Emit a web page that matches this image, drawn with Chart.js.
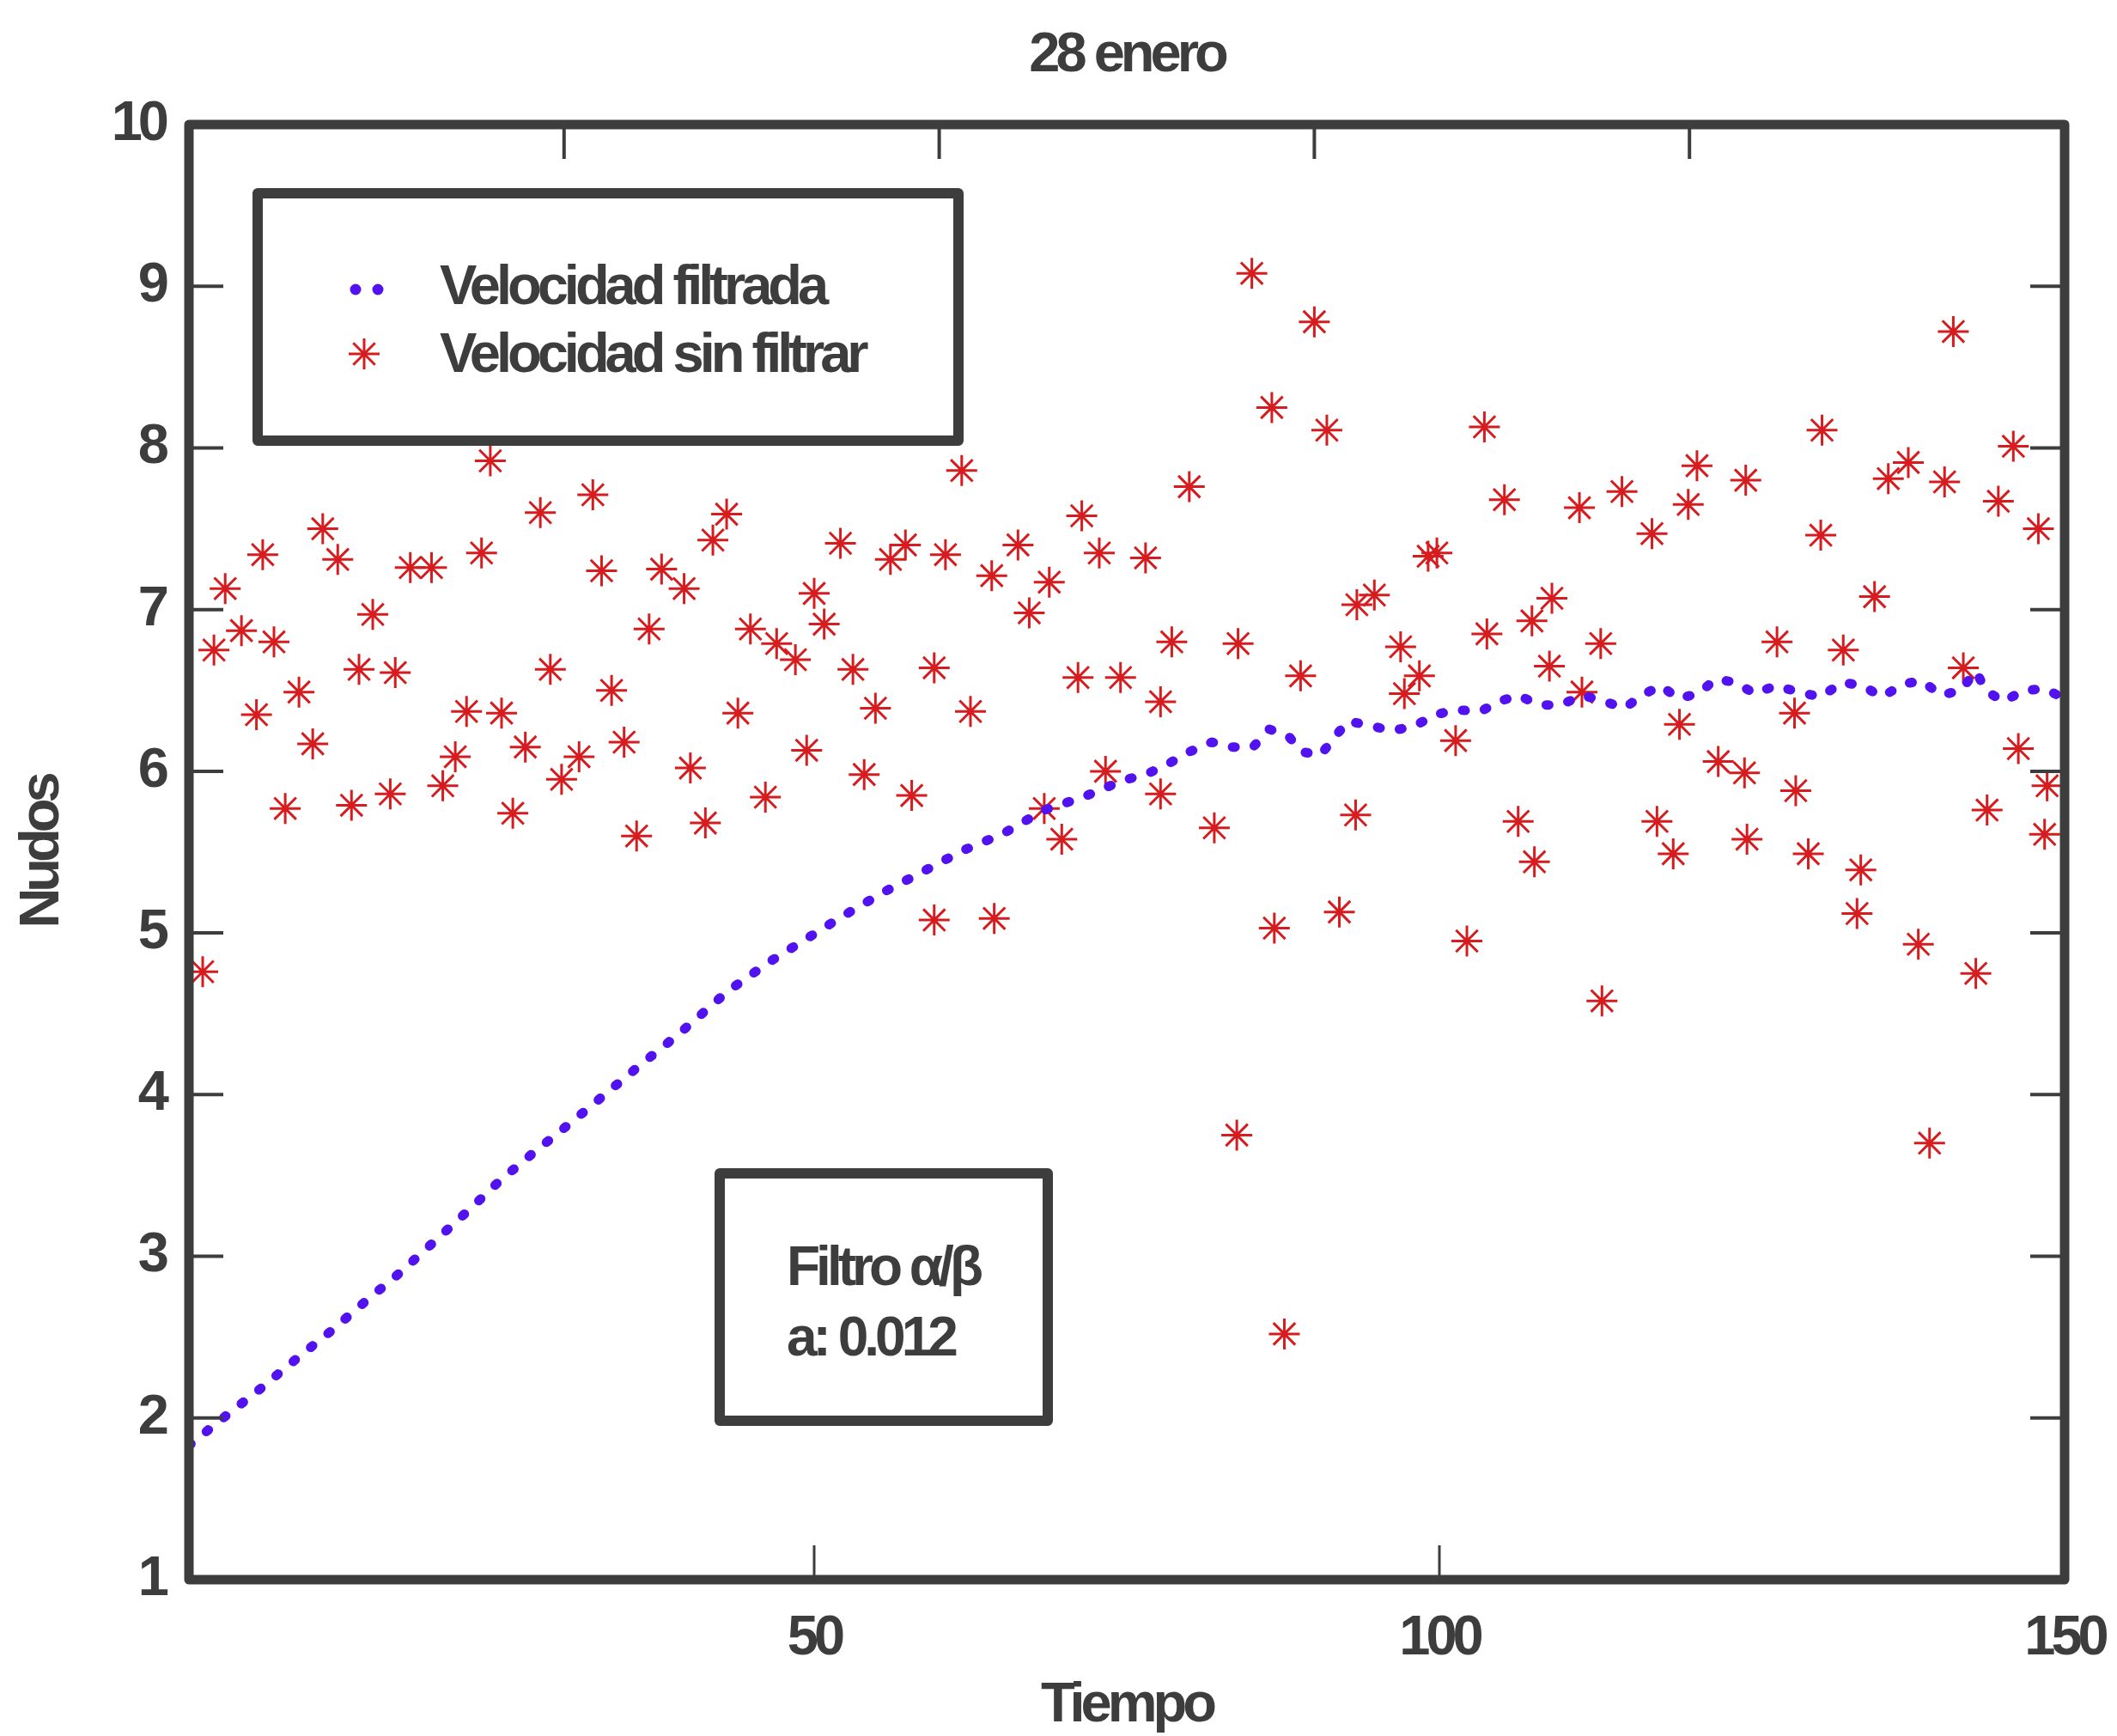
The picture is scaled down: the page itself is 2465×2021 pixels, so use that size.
<!DOCTYPE html>
<html lang="es">
<head>
<meta charset="UTF-8">
<title>28 enero</title>
<script src="https://cdn.jsdelivr.net/npm/chart.js"></script>
<style>
  html, body { margin: 0; padding: 0; background: #fff; overflow: hidden; }
  .wrap { width: 2465px; height: 2021px; position: relative; }
</style>
</head>
<body>
<div class="wrap"><canvas id="chart"></canvas></div>
<script>
// velocidad sin filtrar (tiempo, nudos)
const tRaw = [
  1.1, 2.0, 2.9, 4.2, 5.4, 5.9, 6.8, 7.7, 8.8, 9.9,
  10.7, 11.9, 13.0, 13.6, 14.7, 16.1, 16.5, 17.7, 19.4, 20.3,
  21.3, 22.2, 23.4, 24.1, 25.0, 25.9, 26.9, 28.1, 28.9, 29.8,
  31.2, 32.3, 33.0, 33.8, 34.8, 35.8, 36.8, 37.8, 39.6, 40.1,
  41.3, 41.9, 43.0, 43.9, 44.9, 46.1, 47.0, 48.5, 49.4, 50.0,
  50.8, 52.1, 53.1, 54.0, 54.9, 56.1, 57.3, 57.8, 59.6, 59.6,
  60.5, 61.8, 62.5, 64.2, 64.4, 66.3, 67.2, 68.4, 68.8, 69.8,
  71.1, 71.4, 72.8, 73.3, 74.5,
  76.5, 77.7, 77.7, 78.6, 80.0, 82.0, 83.8, 83.9, 85.0, 86.6,
  86.8, 87.6, 88.9, 90.0, 91.0, 92.0, 93.3, 93.4, 94.8, 96.9,
  97.2, 98.4, 99.1, 99.8, 101.3, 102.2, 103.6, 103.8, 105.2, 106.3,
  107.4, 107.6, 108.8, 109.0, 111.2, 111.4, 112.9, 113.0,
  114.6, 117.0, 117.4, 118.7, 119.2, 119.9, 120.6, 122.3, 124.4, 124.5,
  124.6, 127.0, 128.4, 128.5, 129.5, 130.5, 130.6, 132.3, 133.4, 133.7,
  134.8, 135.9, 137.5, 138.3, 139.2, 140.4, 141.1, 141.9, 142.9, 143.8,
  144.7, 145.9, 146.3, 147.9, 148.4, 148.6
];
const vRaw = [
  4.76, 6.75, 7.13, 6.87, 6.35, 7.34, 6.80, 5.77, 6.49, 6.17,
  7.50, 7.31, 5.79, 6.63, 6.97, 5.86, 6.61, 7.26, 7.26, 5.91,
  6.09, 6.37, 7.35, 7.92, 6.36, 5.74, 6.15, 7.60, 6.63, 5.95,
  6.09, 7.71, 7.24, 6.50, 6.18, 5.60, 6.88, 7.25, 7.13, 6.02,
  5.68, 7.43, 7.59, 6.36, 6.88, 5.84, 6.79, 6.69, 6.13, 7.10,
  6.91, 7.41, 6.63, 5.98, 6.39, 7.31, 7.40, 5.85, 5.08, 6.64,
  7.34, 7.86, 6.37, 7.21, 5.09, 7.40, 6.98, 5.77, 7.17, 5.58,
  6.58, 7.58, 7.35, 6.00, 6.58,
  7.32, 6.43, 5.86, 6.80, 7.76, 5.65, 3.75, 6.79, 9.08, 8.25,
  5.03, 2.52, 6.59, 8.78, 8.11, 5.13, 5.73, 7.03, 7.09, 6.77,
  6.48, 6.59, 7.33, 7.35, 6.19, 4.95, 8.13, 6.85, 7.68, 5.69,
  6.93, 5.44, 6.65, 7.07, 7.63, 6.49, 6.79, 4.58,
  7.73, 7.47, 5.69, 5.49, 6.29, 7.65, 7.89, 6.06, 5.99, 7.80,
  5.58, 6.80, 6.36, 5.88, 5.49, 7.46, 8.11, 6.75, 5.12, 5.39,
  7.08, 7.81, 7.91, 4.93, 3.70, 7.79, 8.72, 6.64, 4.75, 5.76,
  7.67, 8.01, 6.14, 7.50, 5.61, 5.91
];

// velocidad filtrada, leida a lo largo de la curva
const tFilt = [
  0, 2.9, 5.7, 8.5, 11.4, 14.1, 16.9, 19.6, 22.3, 24.9,
  27.7, 30.6, 33.4, 36.2, 39.1, 43.1, 46.4, 49.1, 52.2, 55.5,
  58.7, 61.9, 65.0, 68.4, 71.5, 74.6, 76.8, 78.4, 80.0, 81.8,
  83.4, 85.1, 86.4, 87.9, 89.0, 90.5, 91.6, 92.7, 94.6, 96.2,
  98.0, 99.7, 101.3, 103.3, 104.7, 106.3, 108.0, 109.7, 111.4, 112.9,
  114.8, 116.2, 117.7, 119.1, 120.7, 122.1, 123.7, 125.2, 126.9, 128.7,
  130.5, 132.2, 133.8, 135.4, 137.1, 138.6, 140.1, 141.7, 142.9, 143.7,
  145.1, 146.7, 148.4, 150
];
const vFilt = [
  1.83, 2.01, 2.18, 2.36, 2.54, 2.72, 2.90, 3.09, 3.28, 3.47,
  3.65, 3.83, 4.01, 4.19, 4.37, 4.64, 4.82, 4.95, 5.10, 5.25,
  5.38, 5.51, 5.61, 5.76, 5.84, 5.94, 5.99, 6.05, 6.12, 6.18,
  6.15, 6.15, 6.26, 6.22, 6.12, 6.10, 6.21, 6.31, 6.28, 6.25,
  6.28, 6.35, 6.38, 6.37, 6.43, 6.47, 6.41, 6.41, 6.47, 6.44,
  6.39, 6.47, 6.53, 6.45, 6.48, 6.57, 6.55, 6.48, 6.53, 6.49,
  6.46, 6.55, 6.53, 6.46, 6.54, 6.56, 6.47, 6.50, 6.62, 6.50,
  6.43, 6.50, 6.51, 6.45
];

const xLabels = [50, 100, 150];
const yTicks = [1, 2, 3, 4, 5, 6, 7, 8, 9, 10];
const topTicks = [30, 60, 90, 120];
const bottomTicks = [50, 100];

const INK = '#3d3d3d';
const PURPLE = 'rgb(82, 18, 240)';
const RED = 'rgb(214, 28, 30)';

// Arial Narrow look: use Liberation Sans Narrow if present, else squeeze the letters
function hasFont(name) {
  const c = document.createElement('canvas').getContext('2d');
  const s = 'Velocidad sin filtrar 0123';
  c.font = 'bold 50px monospace';
  const w0 = c.measureText(s).width;
  c.font = 'bold 50px "' + name + '", monospace';
  return Math.abs(c.measureText(s).width - w0) > 1;
}
const NARROW = hasFont('Liberation Sans Narrow');
const FAMILY = NARROW ? '"Liberation Sans Narrow", "Liberation Sans", Arial, sans-serif'
                      : '"Liberation Sans", Arial, sans-serif';
const SPACING = NARROW ? '0px' : '-5px';
const FSIZE = 65;
const font = { family: FAMILY, size: FSIZE, weight: 'bold', lineHeight: 1.2 };

const squeeze = {
  id: 'squeeze',
  beforeDraw(chart) { chart.ctx.letterSpacing = SPACING; }
};

function drawStar(ctx, x, y, r) {
  ctx.beginPath();
  for (let k = 0; k < 4; k++) {
    const a = k * Math.PI / 4;
    ctx.moveTo(x - Math.cos(a) * r, y - Math.sin(a) * r);
    ctx.lineTo(x + Math.cos(a) * r, y + Math.sin(a) * r);
  }
  ctx.stroke();
}

// marco grueso y marcas hacia dentro
const frame = {
  id: 'frame',
  afterDatasetsDraw(chart) {
    const { ctx, chartArea: a, scales: { x, y } } = chart;
    const TICK = 40;
    ctx.save();
    ctx.strokeStyle = INK;
    ctx.lineCap = 'butt';
    ctx.lineWidth = 4;
    ctx.beginPath();
    yTicks.forEach(v => {
      const py = y.getPixelForValue(v);
      ctx.moveTo(a.left, py); ctx.lineTo(a.left + TICK, py);
      ctx.moveTo(a.right, py); ctx.lineTo(a.right - TICK, py);
    });
    topTicks.forEach(v => {
      const px = x.getPixelForValue(v);
      ctx.moveTo(px, a.top); ctx.lineTo(px, a.top + TICK);
    });
    ctx.stroke();
    ctx.lineWidth = 3;
    ctx.beginPath();
    bottomTicks.forEach(v => {
      const px = x.getPixelForValue(v);
      ctx.moveTo(px, a.bottom); ctx.lineTo(px, a.bottom - TICK);
    });
    ctx.stroke();
    ctx.lineWidth = 11;
    ctx.lineJoin = 'round';
    ctx.strokeRect(a.left, a.top, a.right - a.left, a.bottom - a.top);
    ctx.restore();
  }
};

// leyenda y cuadro de texto
const boxes = {
  id: 'boxes',
  afterDraw(chart) {
    const { ctx, chartArea: a } = chart;
    ctx.save();
    ctx.letterSpacing = SPACING;
    ctx.lineJoin = 'round';

    // legend
    const lx = a.left + 80, ly = a.top + 80;
    ctx.fillStyle = '#fff';
    ctx.fillRect(lx, ly, 816, 288);
    ctx.strokeStyle = INK;
    ctx.lineWidth = 12;
    ctx.strokeRect(lx, ly, 816, 288);

    ctx.fillStyle = PURPLE;
    [114, 140].forEach(dx => {
      ctx.beginPath();
      ctx.arc(lx + dx, ly + 112, 6.5, 0, Math.PI * 2);
      ctx.fill();
    });
    ctx.strokeStyle = RED;
    ctx.lineWidth = 3;
    drawStar(ctx, lx + 124, ly + 187, 18);

    ctx.fillStyle = INK;
    ctx.font = 'bold ' + FSIZE + 'px ' + FAMILY;
    ctx.textAlign = 'left';
    ctx.textBaseline = 'middle';
    ctx.fillText('Velocidad filtrada', lx + 212, ly + 111);
    ctx.fillText('Velocidad sin filtrar', lx + 212, ly + 190);

    // annotation
    const bx = a.left + 618, by = a.top + 1221;
    ctx.fillStyle = '#fff';
    ctx.fillRect(bx, by, 382, 288);
    ctx.strokeStyle = INK;
    ctx.lineWidth = 12;
    ctx.strokeRect(bx, by, 382, 288);
    ctx.fillStyle = INK;
    ctx.font = 'bold 64px ' + FAMILY;
    ctx.fillText('Filtro α/β', bx + 78, by + 112);
    ctx.fillText('a: 0.012', bx + 78, by + 194);
    ctx.restore();
  }
};

const ctx = document.getElementById('chart').getContext('2d');
new Chart(ctx, {
  type: 'scatter',
  data: {
    datasets: [
      {
        label: 'Velocidad filtrada',
        data: tFilt.map((t, i) => ({ x: t, y: vFilt[i] })),
        showLine: true,
        borderColor: PURPLE,
        borderWidth: 11,
        borderDash: [3, 23],
        borderCapStyle: 'round',
        borderJoinStyle: 'round',
        pointRadius: 0,
        tension: 0
      },
      {
        label: 'Velocidad sin filtrar',
        data: tRaw.map((t, i) => ({ x: t, y: vRaw[i] })),
        pointStyle: 'star',
        pointRadius: 18,
        pointBorderWidth: 3,
        borderColor: RED,
        backgroundColor: RED
      }
    ]
  },
  options: {
    responsive: true,
    maintainAspectRatio: false,
    devicePixelRatio: 1,
    animation: false,
    events: [],
    layout: { padding: { left: 0, right: 61, top: 0, bottom: 0 } },
    plugins: {
      legend: { display: false },
      tooltip: { enabled: false },
      title: {
        display: true,
        fullSize: false,
        text: '28 enero',
        color: INK,
        font: font,
        padding: { top: 26, bottom: 41 }
      }
    },
    scales: {
      x: {
        type: 'linear',
        position: 'bottom',
        min: 0,
        max: 150,
        afterBuildTicks: s => { s.ticks = xLabels.map(v => ({ value: v })); },
        afterFit: s => { s.height = 182; s.paddingLeft = 0; s.paddingRight = 0; },
        grid: { display: false, drawTicks: false },
        border: { display: false },
        ticks: { color: INK, font: font, padding: 30, maxRotation: 0, autoSkip: false },
        title: {
          display: true,
          text: 'Tiempo',
          color: INK,
          font: { family: FAMILY, size: FSIZE, weight: 'bold', lineHeight: 1 },
          padding: { top: 0, bottom: 2 }
        }
      },
      y: {
        type: 'linear',
        min: 1,
        max: 10,
        afterBuildTicks: s => { s.ticks = yTicks.map(v => ({ value: v })); },
        afterFit: s => { s.width = 220; s.paddingTop = 0; s.paddingBottom = 0; },
        grid: { display: false, drawTicks: false },
        border: { display: false },
        ticks: { color: INK, font: font, padding: 28 },
        title: {
          display: true,
          text: 'Nudos',
          color: INK,
          font: { family: FAMILY, size: FSIZE, weight: 'bold', lineHeight: 1 },
          padding: { top: 18, bottom: 0 }
        }
      }
    }
  },
  plugins: [squeeze, frame, boxes]
});
</script>
</body>
</html>
